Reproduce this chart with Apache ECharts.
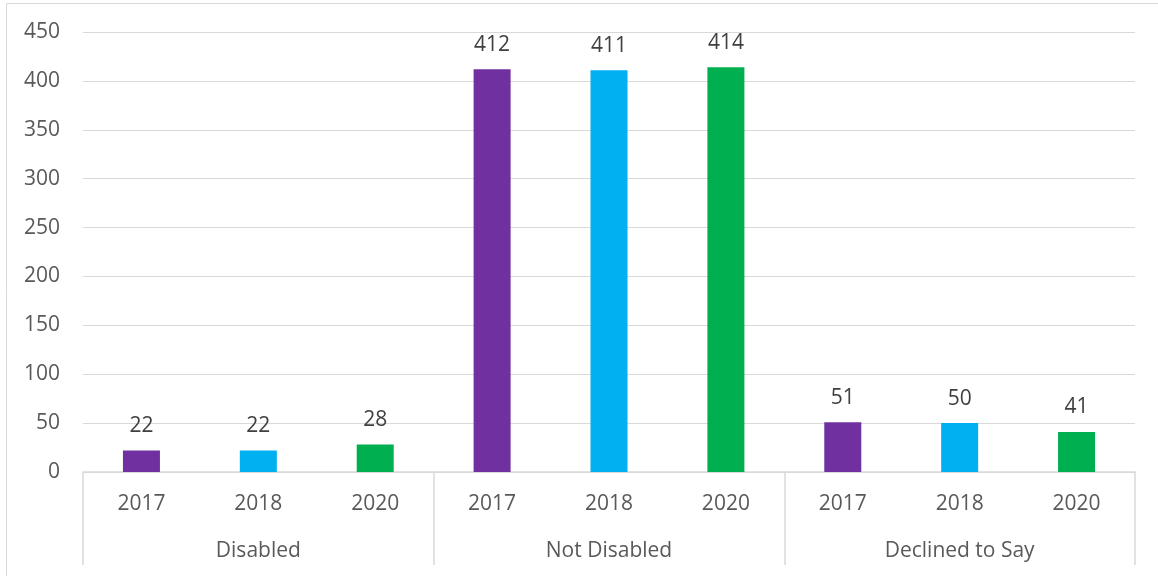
<!DOCTYPE html>
<html>
<head>
<meta charset="utf-8">
<title>Disability status by year</title>
<script src="https://cdn.jsdelivr.net/npm/echarts@6/dist/echarts.min.js"></script>
<style>
  html, body { margin: 0; padding: 0; background: #ffffff; }
  #chart { width: 1158px; height: 576px; }
</style>
</head>
<body>
<div id="chart"></div>
<script>
// Outer categories and the survey years shown inside each of them
const groups = ['Disabled', 'Not Disabled', 'Declined to Say'];
const years = ['2017', '2018', '2020'];

// Counts per group, in the order of the years above
const disabled = [22, 22, 28];
const notDisabled = [412, 411, 414];
const declined = [51, 50, 41];

// One colour per year
const yearColors = ['#7030A0', '#00B0F0', '#00B050'];

const yTicks = { min: 0, max: 450, interval: 50 };

const groupValues = [disabled, notDisabled, declined];

// Flatten into one bar per group/year pair
const innerLabels = [];
const barData = [];
groupValues.forEach(function (vals) {
  vals.forEach(function (v, i) {
    innerLabels.push(years[i]);
    barData.push({ value: v, itemStyle: { color: yearColors[i] } });
  });
});

const textColor = '#595959';
const lineColor = '#d9d9d9';
const fontFamily = '"Open Sans", "Noto Sans", sans-serif';
const fontSize = 21;

const chart = echarts.init(document.getElementById('chart'));
chart.setOption({
  animation: false,
  backgroundColor: '#ffffff',
  textStyle: { fontFamily: fontFamily },
  graphic: [{
    type: 'rect',
    shape: { x: 6.5, y: 3.5, width: 1200, height: 620 },
    style: { fill: 'none', stroke: lineColor, lineWidth: 1 },
    silent: true
  }],
  grid: { left: 83, right: 23, top: 32, bottom: 104, containLabel: false },
  xAxis: [
    {
      type: 'category',
      data: innerLabels,
      position: 'bottom',
      axisLine: { show: true, lineStyle: { color: lineColor, width: 1.5 } },
      axisTick: { show: false },
      axisLabel: { color: textColor, fontSize: fontSize, fontFamily: fontFamily, margin: 22, interval: 0 }
    },
    {
      type: 'category',
      data: groups,
      position: 'bottom',
      axisLine: { show: false },
      axisTick: { show: true, length: 93, interval: 0, lineStyle: { color: lineColor, width: 1.5 } },
      axisLabel: { color: textColor, fontSize: fontSize, fontFamily: fontFamily, margin: 69, interval: 0 }
    }
  ],
  yAxis: {
    type: 'value',
    min: yTicks.min,
    max: yTicks.max,
    interval: yTicks.interval,
    axisLine: { show: false },
    axisTick: { show: false },
    splitLine: { lineStyle: { color: lineColor, width: 1 } },
    axisLabel: { color: textColor, fontSize: fontSize, fontFamily: fontFamily, margin: 23, padding: [3, 0, 0, 0] }
  },
  series: [{
    type: 'bar',
    xAxisIndex: 0,
    data: barData,
    barWidth: 37,
    label: {
      show: true,
      position: 'top',
      distance: 14,
      color: '#404040',
      fontSize: fontSize,
      fontFamily: fontFamily
    }
  }]
});
</script>
</body>
</html>
